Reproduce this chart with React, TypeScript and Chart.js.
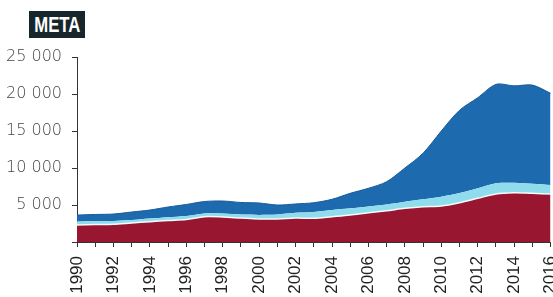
import React, { useEffect, useRef } from "react";
import { Chart, registerables } from "chart.js";

Chart.register(...registerables);

const years = [
  "1990", "1991", "1992", "1993", "1994", "1995", "1996", "1997", "1998", "1999",
  "2000", "2001", "2002", "2003", "2004", "2005", "2006", "2007", "2008", "2009",
  "2010", "2011", "2012", "2013", "2014", "2015", "2016",
];

// bottom layer (dark red)
const redSeries = [
  2300, 2350, 2390, 2570, 2740, 2900, 3040, 3420, 3380, 3240,
  3110, 3110, 3240, 3200, 3420, 3650, 3960, 4230, 4550, 4770,
  4870, 5310, 5900, 6490, 6660, 6580, 6490,
];

// middle layer (light cyan)
const cyanSeries = [
  470, 450, 450, 400, 430, 450, 470, 430, 470, 470,
  550, 600, 700, 850, 900, 900, 850, 850, 900, 1000,
  1250, 1300, 1350, 1450, 1350, 1300, 1220,
];

// top layer (blue)
const blueSeries = [
  880, 920, 940, 1080, 1150, 1380, 1560, 1620, 1690, 1630,
  1610, 1290, 1200, 1260, 1450, 2030, 2450, 3070, 4550, 6230,
  8880, 11190, 12250, 13360, 13090, 13320, 12390,
];

const yTicks = [0, 5000, 10000, 15000, 20000, 25000];

const formatThousands = (v: number) => {
  if (v === 0) return "";
  const s = String(Math.round(v));
  return s.replace(/\B(?=(\d{3})+(?!\d))/g, " ");
};

export default function App() {
  const ref = useRef<HTMLCanvasElement | null>(null);

  useEffect(() => {
    if (!ref.current) return;
    const chart = new Chart(ref.current, {
      type: "line",
      data: {
        labels: years,
        datasets: [
          {
            label: "red",
            data: redSeries,
            fill: "origin",
            backgroundColor: "#98162f",
            borderColor: "#f4fbfd",
            borderWidth: 1.5,
            pointRadius: 0,
            tension: 0.3,
          },
          {
            label: "cyan",
            data: cyanSeries,
            fill: "-1",
            backgroundColor: "#8fdcec",
            borderColor: "#8fdcec",
            borderWidth: 0,
            pointRadius: 0,
            tension: 0.3,
          },
          {
            label: "blue",
            data: blueSeries,
            fill: "-1",
            backgroundColor: "#1d6aae",
            borderColor: "#195c9a",
            borderWidth: 1,
            pointRadius: 0,
            tension: 0.3,
          },
        ],
      },
      options: {
        responsive: false,
        animation: false,
        devicePixelRatio: 1,
        layout: { padding: { top: 57, right: 29, left: 0, bottom: 0 } },
        plugins: {
          legend: { display: false },
          tooltip: { enabled: false },
          title: { display: false },
        },
        scales: {
          x: {
            type: "category",
            offset: false,
            grid: {
              display: true,
              drawOnChartArea: false,
              drawTicks: true,
              tickLength: 5,
              color: "#333",
            },
            border: { display: true, color: "#333", width: 1 },
            ticks: {
              autoSkip: false,
              maxRotation: 90,
              minRotation: 90,
              padding: 9,
              color: "#222",
              font: { family: "'Liberation Sans', Arial, sans-serif", size: 17 },
              callback: (_v: any, i: number) => (i % 2 === 0 ? years[i] : ""),
            },
            afterFit: (scale: any) => {
              scale.height = 68;
            },
          },
          y: {
            stacked: true,
            min: 0,
            max: 25000,
            afterBuildTicks: (scale: any) => {
              scale.ticks = yTicks.map((v) => ({ value: v }));
            },
            grid: {
              display: true,
              drawOnChartArea: false,
              drawTicks: true,
              tickLength: 5,
              color: "#333",
            },
            border: { display: true, color: "#333", width: 1 },
            ticks: {
              padding: 10,
              color: "#444",
              font: { family: "'DejaVu Sans', sans-serif", size: 16, weight: 300 },
              callback: (v: any) => formatThousands(Number(v)),
            },
            afterFit: (scale: any) => {
              scale.width = 77;
            },
          },
        },
      },
    });
    return () => chart.destroy();
  }, []);

  return (
    <div
      style={{
        position: "absolute",
        left: 0,
        top: 0,
        width: 553,
        height: 297,
        overflow: "hidden",
        background: "#fff",
      }}
    >
      <canvas
        ref={ref}
        width={580}
        height={310}
        style={{ position: "absolute", left: 0, top: 0, display: "block" }}
      />
      <div
        style={{
          position: "absolute",
          left: 29,
          top: 11,
          width: 56,
          height: 27,
          background: "#17262a",
          display: "flex",
          alignItems: "center",
          justifyContent: "center",
          overflow: "hidden",
        }}
      >
        <span
          style={{
            color: "#fff",
            fontFamily: "'Liberation Sans', Arial, sans-serif",
            fontWeight: 700,
            fontSize: 22,
            display: "inline-block",
            transform: "scaleX(0.76)",
            lineHeight: "27px",
          }}
        >
          META
        </span>
      </div>
    </div>
  );
}
